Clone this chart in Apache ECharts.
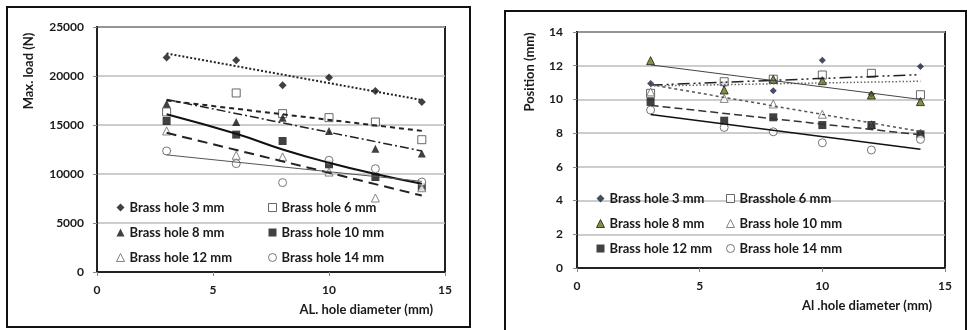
<!DOCTYPE html>
<html>
<head>
<meta charset="utf-8">
<script src="https://cdn.jsdelivr.net/npm/echarts@6/dist/echarts.min.js"></script>
<style>
  html, body { margin: 0; padding: 0; background: #fff; }
  #main { width: 967px; height: 330px; }
</style>
</head>
<body>
<div id="main"></div>
<script>
// hole diameters (x) shared by both plots
const holeX = [3, 6, 8, 10, 12, 14];
const trendX = [3, 14];

// left plot: max load (N)
const loadNames = ['Brass hole 3 mm', 'Brass hole 6 mm', 'Brass hole 8 mm', 'Brass hole 10 mm', 'Brass hole 12 mm', 'Brass hole 14 mm'];
const load3 = [21900, 21600, 19050, 19840, 18470, 17350];
const load6 = [16330, 18270, 16160, 15750, 15300, 13500];
const load8 = [17180, 15310, 15750, 14390, 12580, 12080];
const load10 = [15410, 14020, 13370, 10990, 9690, 8700];
const load12 = [14390, 11910, 11740, 10200, 7550, 8600];
const load14 = [12350, 11060, 9120, 11400, 10540, 9180];
// trendlines
const loadTrend3 = [22300, 17550];
const loadTrend6 = [17500, 14400];
const loadTrend8 = [17600, 12350];
const loadTrend10 = [16100, 14100, 12500, 11150, 10000, 9000];
const loadTrend12 = [14200, 7800];
const loadTrend14 = [11950, 9250];

// right plot: position (mm)
const posNames = ['Brass hole 3 mm', 'Brasshole 6 mm', 'Brass hole 8 mm', 'Brass hole 10 mm', 'Brass hole 12 mm', 'Brass hole 14 mm'];
const pos3 = [10.95, 10.9, 10.52, 12.32, 10.3, 11.96];
const pos6 = [10.36, 11.05, 11.2, 11.45, 11.55, 10.28];
const pos8 = [12.3, 10.56, 11.19, 11.11, 10.26, 9.87];
const pos10 = [10.45, 10.06, 9.73, 9.12, 8.5, 8.0];
const pos12 = [9.85, 8.74, 8.94, 8.48, 8.48, 7.93];
const pos14 = [9.37, 8.34, 8.08, 7.43, 7.0, 7.63];
const posTrend3 = [10.85, 11.47];
const posTrend6 = [10.8, 11.08];
const posTrend8 = [12.05, 10.0];
const posTrend10 = [10.88, 8.1];
const posTrend12 = [9.65, 7.9];
const posTrend14 = [9.1, 7.05];

const font = 'Lato, "Open Sans", sans-serif';
const ink = '#1a1a1a';

const pair = (xs, ys) => xs.map((x, i) => [x, ys[i]]);

// marker looks, same order as the names
const leftMarks = [
  { symbol: 'diamond', size: 8, style: { color: '#111' } },
  { symbol: 'rect', size: 8, style: { color: '#fff', borderColor: '#444', borderWidth: 1 } },
  { symbol: 'triangle', size: 8, style: { color: '#111' } },
  { symbol: 'rect', size: 8, style: { color: '#111' } },
  { symbol: 'triangle', size: 8, style: { color: '#fff', borderColor: '#666', borderWidth: 1 } },
  { symbol: 'circle', size: 8, style: { color: '#fff', borderColor: '#555', borderWidth: 1 } }
];
const rightMarks = [
  { symbol: 'diamond', size: 7, style: { color: '#15213d' } },
  { symbol: 'rect', size: 8, style: { color: '#fff', borderColor: '#444', borderWidth: 1 } },
  { symbol: 'triangle', size: 8, style: { color: '#5d7a12', borderColor: '#1a1a1a', borderWidth: 1 } },
  { symbol: 'triangle', size: 8, style: { color: '#fff', borderColor: '#666', borderWidth: 1 } },
  { symbol: 'rect', size: 8, style: { color: '#111' } },
  { symbol: 'circle', size: 8, style: { color: '#fff', borderColor: '#555', borderWidth: 1 } }
];

function scatter(name, ys, mark, idx) {
  return {
    name, type: 'scatter', xAxisIndex: idx, yAxisIndex: idx,
    symbol: mark.symbol, symbolSize: mark.size, itemStyle: mark.style,
    data: pair(holeX, ys), z: 3
  };
}

function trend(xs, ys, idx, type, width, color, smooth) {
  return {
    name: 'trend', type: 'line', xAxisIndex: idx, yAxisIndex: idx,
    symbol: 'none', smooth: !!smooth, silent: true,
    lineStyle: { color, width, type },
    data: pair(xs, ys), z: 4
  };
}

function legendCol(names, marks, picks, left, top) {
  return {
    orient: 'vertical', left, top,
    itemWidth: 8, itemHeight: 8, itemGap: 10,
    selectedMode: false,
    textStyle: { fontFamily: font, fontWeight: 'bold', fontSize: 13, color: ink, lineHeight: 15 },
    data: picks.map(i => ({
      name: names[i],
      icon: marks[i].symbol,
      itemStyle: Object.assign({ borderWidth: 0 }, marks[i].style)
    }))
  };
}

const axisLabel = { fontFamily: font, fontWeight: 'bold', fontSize: 12, color: ink, formatter: v => String(v) };
const splitLine = { show: true, lineStyle: { color: '#bdbdbd', width: 1.5 } };

const chart = echarts.init(document.getElementById('main'));

chart.setOption({
  animation: false,
  backgroundColor: '#fff',
  grid: [
    { left: 97, top: 27, width: 348, height: 245, show: true, borderColor: '#222', borderWidth: 2 },
    { left: 577, top: 32, width: 368, height: 236, show: true, borderColor: '#222', borderWidth: 2 }
  ],
  xAxis: [0, 1].map(i => ({
    type: 'value', gridIndex: i, min: 0, max: 15, interval: 5,
    axisLine: { show: true, lineStyle: { color: '#222', width: 2 } },
    axisTick: { show: true, length: 4, lineStyle: { color: '#888' } },
    axisLabel: Object.assign({ margin: 12 }, axisLabel),
    splitLine: { show: false }
  })),
  yAxis: [
    {
      type: 'value', gridIndex: 0, min: 0, max: 25000, interval: 5000,
      axisLine: { show: true, lineStyle: { color: '#222', width: 2 } },
      axisTick: { show: true, length: 4, lineStyle: { color: '#888' } },
      axisLabel: Object.assign({ margin: 13 }, axisLabel),
      splitLine
    },
    {
      type: 'value', gridIndex: 1, min: 0, max: 14, interval: 2,
      axisLine: { show: true, lineStyle: { color: '#222', width: 2 } },
      axisTick: { show: true, length: 4, lineStyle: { color: '#888' } },
      axisLabel: Object.assign({ margin: 14 }, axisLabel),
      splitLine
    }
  ],
  legend: [
    legendCol(loadNames, leftMarks, [0, 2, 4], 111, 195),
    legendCol(loadNames, leftMarks, [1, 3, 5], 263, 195),
    legendCol(posNames, rightMarks, [0, 2, 4], 591, 186),
    legendCol(posNames, rightMarks, [1, 3, 5], 721, 186)
  ],
  graphic: [
    { type: 'rect', shape: { x: 7, y: 7, width: 463, height: 320 }, style: { fill: 'none', stroke: '#111', lineWidth: 2 }, silent: true },
    { type: 'rect', shape: { x: 505, y: 11, width: 461, height: 322 }, style: { fill: 'none', stroke: '#111', lineWidth: 2 }, silent: true },
    { type: 'text', x: 29, y: 71, rotation: Math.PI / 2,
      style: { text: 'Max. load (N)', align: 'center', verticalAlign: 'middle', font: 'bold 13px ' + font, fill: ink } },
    { type: 'text', x: 433, y: 310,
      style: { text: 'AL. hole diameter (mm)', align: 'right', verticalAlign: 'middle', font: 'bold 13px ' + font, fill: ink } },
    { type: 'text', x: 530, y: 72, rotation: Math.PI / 2,
      style: { text: 'Position (mm)', align: 'center', verticalAlign: 'middle', font: 'bold 13px ' + font, fill: ink } },
    { type: 'text', x: 932, y: 306,
      style: { text: 'Al .hole diameter (mm)', align: 'right', verticalAlign: 'middle', font: 'bold 13px ' + font, fill: ink } }
  ],
  series: [
    scatter(loadNames[0], load3, leftMarks[0], 0),
    scatter(loadNames[1], load6, leftMarks[1], 0),
    scatter(loadNames[2], load8, leftMarks[2], 0),
    scatter(loadNames[3], load10, leftMarks[3], 0),
    scatter(loadNames[4], load12, leftMarks[4], 0),
    scatter(loadNames[5], load14, leftMarks[5], 0),
    trend(trendX, loadTrend3, 0, [2, 2], 2, '#222'),
    trend(trendX, loadTrend6, 0, [5, 4], 2, '#222'),
    trend(trendX, loadTrend8, 0, [9, 3, 2, 3], 1.5, '#222'),
    trend(holeX, loadTrend10, 0, 'solid', 2, '#111', true),
    trend(trendX, loadTrend12, 0, [10, 6], 2, '#222'),
    trend(trendX, loadTrend14, 0, 'solid', 1, '#555'),

    scatter(posNames[0], pos3, rightMarks[0], 1),
    scatter(posNames[1], pos6, rightMarks[1], 1),
    scatter(posNames[2], pos8, rightMarks[2], 1),
    scatter(posNames[3], pos10, rightMarks[3], 1),
    scatter(posNames[4], pos12, rightMarks[4], 1),
    scatter(posNames[5], pos14, rightMarks[5], 1),
    trend(trendX, posTrend3, 1, [12, 4, 2, 3, 2, 4], 1.5, '#222'),
    trend(trendX, posTrend6, 1, [1.5, 2], 1.5, '#666'),
    trend(trendX, posTrend8, 1, 'solid', 1, '#444'),
    trend(trendX, posTrend10, 1, [3, 3], 1.5, '#555'),
    trend(trendX, posTrend12, 1, [8, 4], 1.5, '#333'),
    trend(trendX, posTrend14, 1, 'solid', 1.5, '#111')
  ]
});
</script>
</body>
</html>
